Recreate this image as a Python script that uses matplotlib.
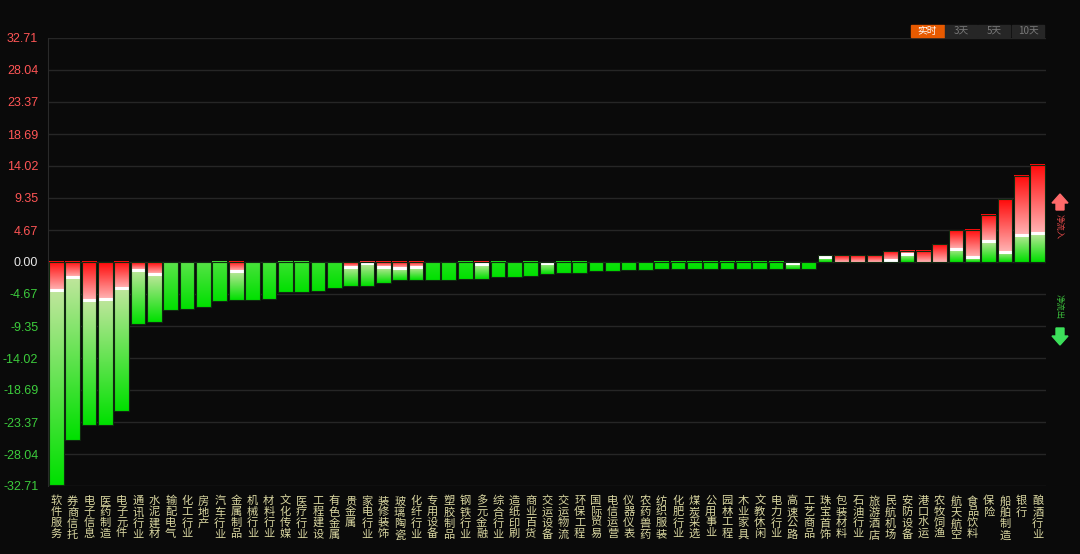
import numpy as np
import matplotlib
matplotlib.use('Agg')
import matplotlib.pyplot as plt
from matplotlib.colors import to_rgb

plt.rcParams['font.family'] = ['Noto Sans CJK SC', 'DejaVu Sans']

# sector names, net flow (bar end) and the red/green split point inside each bar
names = ['软件服务', '券商信托', '电子信息', '医药制造', '电子元件', '通讯行业', '水泥建材', '输配电气',
         '化工行业', '房地产', '汽车行业', '金属制品', '机械行业', '材料行业', '文化传媒', '医疗行业',
         '工程建设', '有色金属', '贵金属', '家电行业', '装修装饰', '玻璃陶瓷', '化纤行业', '专用设备',
         '塑胶制品', '钢铁行业', '多元金融', '综合行业', '造纸印刷', '商业百货', '交运设备', '交运物流',
         '环保工程', '国际贸易', '电信运营', '仪器仪表', '农药兽药', '纺织服装', '化肥行业', '煤炭采选',
         '公用事业', '园林工程', '木业家具', '文教休闲', '电力行业', '高速公路', '工艺商品', '珠宝首饰',
         '包装材料', '石油行业', '旅游酒店', '民航机场', '安防设备', '港口水运', '农牧饲渔', '航天航空',
         '食品饮料', '保险', '船舶制造', '银行', '酿酒行业']
net = [-32.6, -26.0, -23.8, -23.8, -21.7, -9.1, -8.7, -7.0,
       -6.8, -6.5, -5.7, -5.5, -5.5, -5.4, -4.45, -4.45,
       -4.2, -3.75, -3.45, -3.45, -3.0, -2.6, -2.6, -2.6,
       -2.6, -2.5, -2.5, -2.25, -2.15, -2.05, -1.8, -1.65,
       -1.65, -1.3, -1.3, -1.15, -1.15, -1.05, -1.05, -1.05,
       -1.05, -1.05, -1.05, -1.05, -1.05, -1.0, -1.0, 1.0,
       1.0, 1.0, 1.0, 1.65, 1.65, 1.65, 2.6, 4.6,
       4.7, 6.8, 9.2, 12.6, 14.2]
split = [-4.1, -2.2, -5.6, -5.4, -3.8, -1.1, -1.7, 0,
         0, 0, 0, -1.35, 0, 0, 0, 0,
         0, 0, -0.7, -0.15, -0.8, -0.9, -0.8, 0,
         0, 0, -0.35, 0, 0, 0, -0.1, 0,
         0, 0, 0, 0, 0, 0, 0, 0,
         0, 0, 0, 0, 0, -0.1, 0, 0.8,
         0, 0, 0, 0.35, 1.15, 0, 0, 1.9,
         0.7, 3.0, 1.5, 3.95, 4.2]
yticks = [32.71, 28.04, 23.37, 18.69, 14.02, 9.35, 4.67, 0.00,
          -4.67, -9.35, -14.02, -18.69, -23.37, -28.04, -32.71]
periods = ['实时', '3天', '5天', '10天']

BG = '#0a0a0a'
RED_DEEP, RED_PALE = to_rgb('#ff0a0a'), to_rgb('#ffb4b4')
GRN_PALE, GRN_DEEP = to_rgb('#bfe69c'), to_rgb('#00e000')
W = 0.9


def grad(ax, x, y0, y1, c0, c1):
    # vertical gradient, c0 at y0 and c1 at y1
    if abs(y1 - y0) < 1e-6:
        return
    t = np.linspace(0, 1, 64)[:, None]
    cols = (1 - t) * np.array(c0) + t * np.array(c1)
    img = cols[:, None, :]
    lo, hi = min(y0, y1), max(y0, y1)
    if y0 > y1:
        img = img[::-1]
    ax.imshow(img, extent=[x - W / 2, x + W / 2, lo, hi], origin='lower',
              aspect='auto', interpolation='bilinear', zorder=3)


fig = plt.figure(figsize=(10.8, 5.54), dpi=100, facecolor=BG)
ax = fig.add_axes([48 / 1080, 1 - 486 / 554, 998 / 1080, 448 / 554])
ax.set_facecolor(BG)

x = np.arange(len(names))
for i, (v, s) in enumerate(zip(net, split)):
    if v < 0:
        grad(ax, i, 0, s, RED_DEEP, RED_PALE)
        if s != 0:
            g0 = GRN_PALE
        else:
            k = min(1.0, abs(v) / 8) * 0.55
            g0 = tuple(k * a + (1 - k) * b for a, b in zip(GRN_PALE, GRN_DEEP))
        grad(ax, i, s, v, g0, GRN_DEEP)
    else:
        grad(ax, i, v, s, RED_DEEP, RED_PALE)
        grad(ax, i, s, 0, GRN_PALE, GRN_DEEP)
    if s != 0 and s != v:
        ax.plot([i - W / 2, i + W / 2], [s, s], color='white', lw=2.2, zorder=4,
                solid_capstyle='butt')

ax.bar(x, net, width=W, fill=False, edgecolor='#102a10', lw=0.8, zorder=5)

ax.set_xlim(-0.5, len(names) - 0.5)
ax.set_ylim(-32.71, 32.71)
ax.set_yticks(yticks)
ax.set_yticklabels(['%.2f' % t for t in yticks], fontsize=9, family='Liberation Sans')
for lab, t in zip(ax.get_yticklabels(), yticks):
    lab.set_color('#ff5555' if t > 0 else ('#e8e8e8' if t == 0 else '#3ccc3c'))
ax.tick_params(axis='y', length=0, pad=7)
ax.set_xticks([])
ax.grid(axis='y', color='#262626', lw=1, zorder=0)
for side in ['top', 'right', 'bottom']:
    ax.spines[side].set_visible(False)
ax.spines['left'].set_color('#2a2a2a')

# vertical sector labels
for i, n in enumerate(names):
    ax.text(i, -0.022, '\n'.join(n), transform=ax.get_xaxis_transform(),
            ha='center', va='top', fontsize=8.1, color='#d9d6a0', linespacing=1.1)

# period buttons top right
bx = [911, 945, 978, 1012]
bw = [33, 32, 32, 32]
for j, p in enumerate(periods):
    on = j == 0
    fig.patches.append(plt.Rectangle((bx[j] / 1080, 1 - 37 / 554), bw[j] / 1080, 12 / 554,
                                     transform=fig.transFigure,
                                     color='#e85a00' if on else '#262626', zorder=1))
    fig.text((bx[j] + bw[j] / 2) / 1080, 1 - 31 / 554, p, ha='center', va='center',
             fontsize=7, color='white' if on else '#7a7a7a')

# inflow / outflow markers on the right
fig.patches.append(plt.Polygon([[1060 / 1080, 1 - 194 / 554], [1052 / 1080, 1 - 203 / 554],
                                [1056 / 1080, 1 - 203 / 554], [1056 / 1080, 1 - 210 / 554],
                                [1064 / 1080, 1 - 210 / 554], [1064 / 1080, 1 - 203 / 554],
                                [1068 / 1080, 1 - 203 / 554]],
                               closed=True, transform=fig.transFigure, color='#ff6a6a'))
fig.patches.append(plt.Polygon([[1060 / 1080, 1 - 345 / 554], [1052 / 1080, 1 - 336 / 554],
                                [1056 / 1080, 1 - 336 / 554], [1056 / 1080, 1 - 328 / 554],
                                [1064 / 1080, 1 - 328 / 554], [1064 / 1080, 1 - 336 / 554],
                                [1068 / 1080, 1 - 336 / 554]],
                               closed=True, transform=fig.transFigure, color='#3ce05a'))
fig.text(1059 / 1080, 1 - 227 / 554, '净流入', rotation=-90, ha='center', va='center',
         fontsize=6, color='#e04848')
fig.text(1059 / 1080, 1 - 307 / 554, '净流出', rotation=-90, ha='center', va='center',
         fontsize=6, color='#3cc03c')

fig.savefig('out.png', dpi=100, facecolor=BG)
